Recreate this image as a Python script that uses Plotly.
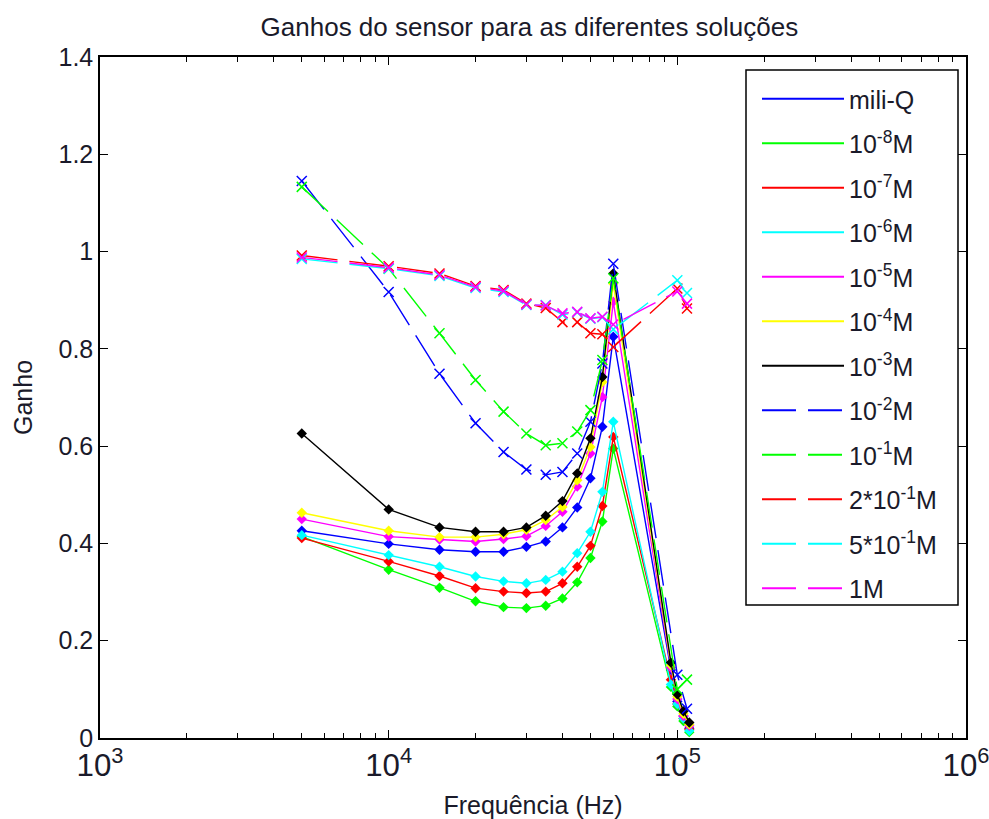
import plotly.graph_objects as go

# ---------------- data ----------------
freq_solid = [5000, 10000, 15000, 20000, 25000, 30000, 35000, 40000, 45000, 50000, 55000, 60000,
              95000, 100000, 105000, 110000]
freq_dashed = [5000, 10000, 15000, 20000, 25000, 30000, 35000, 40000, 45000, 50000, 55000, 60000,
               100000, 108000]

mili_q = [0.426, 0.399, 0.387, 0.383, 0.383, 0.393, 0.404, 0.433, 0.474, 0.534, 0.640, 0.825,
          0.140, 0.075, 0.045, 0.020]
m1e_8 = [0.414, 0.346, 0.309, 0.281, 0.269, 0.267, 0.272, 0.287, 0.320, 0.370, 0.445, 0.595,
         0.105, 0.065, 0.035, 0.012]
m1e_7 = [0.411, 0.363, 0.333, 0.308, 0.301, 0.298, 0.301, 0.318, 0.352, 0.395, 0.477, 0.619,
         0.120, 0.070, 0.040, 0.018]
m1e_6 = [0.417, 0.376, 0.352, 0.332, 0.322, 0.318, 0.325, 0.342, 0.380, 0.424, 0.506, 0.650,
         0.110, 0.070, 0.040, 0.015]
m1e_5 = [0.450, 0.414, 0.408, 0.404, 0.409, 0.415, 0.436, 0.465, 0.517, 0.585, 0.701, 0.897,
         0.145, 0.080, 0.045, 0.025]
m1e_4 = [0.463, 0.426, 0.413, 0.413, 0.419, 0.428, 0.448, 0.475, 0.530, 0.598, 0.732, 0.934,
         0.150, 0.085, 0.050, 0.028]
m1e_3 = [0.626, 0.470, 0.433, 0.424, 0.424, 0.433, 0.457, 0.487, 0.544, 0.616, 0.742, 0.955,
         0.155, 0.090, 0.055, 0.032]

m1e_2 = [1.145, 0.917, 0.749, 0.647, 0.588, 0.552, 0.541, 0.547, 0.585, 0.650, 0.770, 0.975,
         0.130, 0.060]
m1e_1 = [1.133, 0.965, 0.832, 0.736, 0.671, 0.626, 0.602, 0.606, 0.630, 0.674, 0.777, 0.945,
         0.100, 0.120]
m2e_1 = [0.992, 0.970, 0.955, 0.929, 0.921, 0.893, 0.884, 0.855, 0.855, 0.832, 0.830, 0.804,
         0.924, 0.883]
m5e_1 = [0.985, 0.965, 0.950, 0.925, 0.917, 0.890, 0.890, 0.870, 0.875, 0.862, 0.865, 0.840,
         0.941, 0.915]
m1 = [0.988, 0.967, 0.952, 0.927, 0.919, 0.891, 0.889, 0.873, 0.876, 0.863, 0.866, 0.850,
      0.918, 0.893]

solid_names = ["mili-Q", "10<sup>-8</sup>M", "10<sup>-7</sup>M", "10<sup>-6</sup>M",
               "10<sup>-5</sup>M", "10<sup>-4</sup>M", "10<sup>-3</sup>M"]
solid_values = [mili_q, m1e_8, m1e_7, m1e_6, m1e_5, m1e_4, m1e_3]
solid_colors = ["#0000FF", "#00FF00", "#FF0000", "#00FFFF", "#FF00FF", "#FFFF00", "#000000"]

dashed_names = ["10<sup>-2</sup>M", "10<sup>-1</sup>M", "2*10<sup>-1</sup>M",
                "5*10<sup>-1</sup>M", "1M"]
dashed_values = [m1e_2, m1e_1, m2e_1, m5e_1, m1]
dashed_colors = ["#0000FF", "#00FF00", "#FF0000", "#00FFFF", "#FF00FF"]

title_text = "Ganhos do sensor para as diferentes soluções"
x_title = "Frequência (Hz)"
y_title = "Ganho"

# ---------------- figure ----------------
FONT = "Liberation Sans, Arial, sans-serif"
TXT = "#1a1a2a"
DASH = "36px,12px"
W, H = 989, 819
ML, MR, MT, MB = 100, 23, 57, 81
PW, PH = W - ML - MR, H - MT - MB


def px_x(p):
    return (p - ML) / PW


def px_y(p):
    return (H - MB - p) / PH


fig = go.Figure()

for name, vals, col in zip(solid_names, solid_values, solid_colors):
    fig.add_trace(go.Scatter(
        x=freq_solid, y=vals, mode="lines+markers", name=name, showlegend=False,
        line=dict(color=col, width=1.4),
        marker=dict(symbol="diamond", size=8, color=col, line=dict(width=0)),
    ))

for name, vals, col in zip(dashed_names, dashed_values, dashed_colors):
    fig.add_trace(go.Scatter(
        x=freq_dashed, y=vals, mode="lines+markers", name=name, showlegend=False,
        line=dict(color=col, width=1.4, dash=DASH),
        marker=dict(symbol="x-thin-open", size=10, color=col, line=dict(width=1.5, color=col)),
    ))

# legend entries (line only, like the original)
for i, (name, col) in enumerate(zip(solid_names, solid_colors)):
    fig.add_trace(go.Scatter(x=[None], y=[None], mode="lines", name=name,
                             legendgroup=f"g{i}", line=dict(color=col, width=2)))
for j, (name, col) in enumerate(zip(dashed_names, dashed_colors)):
    fig.add_trace(go.Scatter(x=[None], y=[None], mode="lines", name=name,
                             legendgroup=f"h{j}", line=dict(color=col, width=2, dash="34px,12px")))

axis_common = dict(
    showline=True, linecolor="black", linewidth=1.5, mirror="allticks",
    ticks="inside", ticklen=8, tickwidth=1.2, tickcolor="black",
    showgrid=False, zeroline=False, automargin=False, ticklabeloverflow="allow",
    tickfont=dict(family=FONT, size=25, color=TXT),
)

# legend frame (opaque box like the original)
fig.add_shape(type="rect", xref="paper", yref="paper",
              x0=px_x(746), x1=px_x(958), y0=px_y(605), y1=px_y(70),
              line=dict(color="black", width=1.5), fillcolor="white", layer="above")

fig.update_layout(
    template="none",
    width=W, height=H, autosize=False,
    paper_bgcolor="white", plot_bgcolor="white",
    margin=dict(l=ML, r=MR, t=MT, b=MB, pad=0),
    font=dict(family=FONT, size=25, color=TXT),
    title=dict(text=title_text, x=0.5353, xanchor="center", y=1 - 27 / H, yanchor="middle",
               font=dict(family=FONT, size=26, color=TXT)),
    xaxis=dict(type="log", range=[3, 6], dtick=1, exponentformat="power",
               title=dict(text=x_title, standoff=14, font=dict(family=FONT, size=25, color=TXT)),
               minor=dict(ticks="inside", ticklen=5, tickcolor="black", dtick="D1"),
               **axis_common),
    yaxis=dict(range=[0, 1.4], dtick=0.2,
               title=dict(text=y_title, standoff=19, font=dict(family=FONT, size=25, color=TXT)),
               **axis_common),
    legend=dict(x=px_x(757), y=px_y(76), xanchor="left", yanchor="top",
                borderwidth=0, bgcolor="rgba(0,0,0,0)",
                font=dict(family=FONT, size=25, color=TXT),
                tracegroupgap=9, itemwidth=82),
    showlegend=True,
)

fig.write_html(
    "out.html",
    config={"displayModeBar": False},
    post_script="document.body.style.margin='0';document.body.style.padding='0';"
                "document.body.style.overflow='hidden';",
)
